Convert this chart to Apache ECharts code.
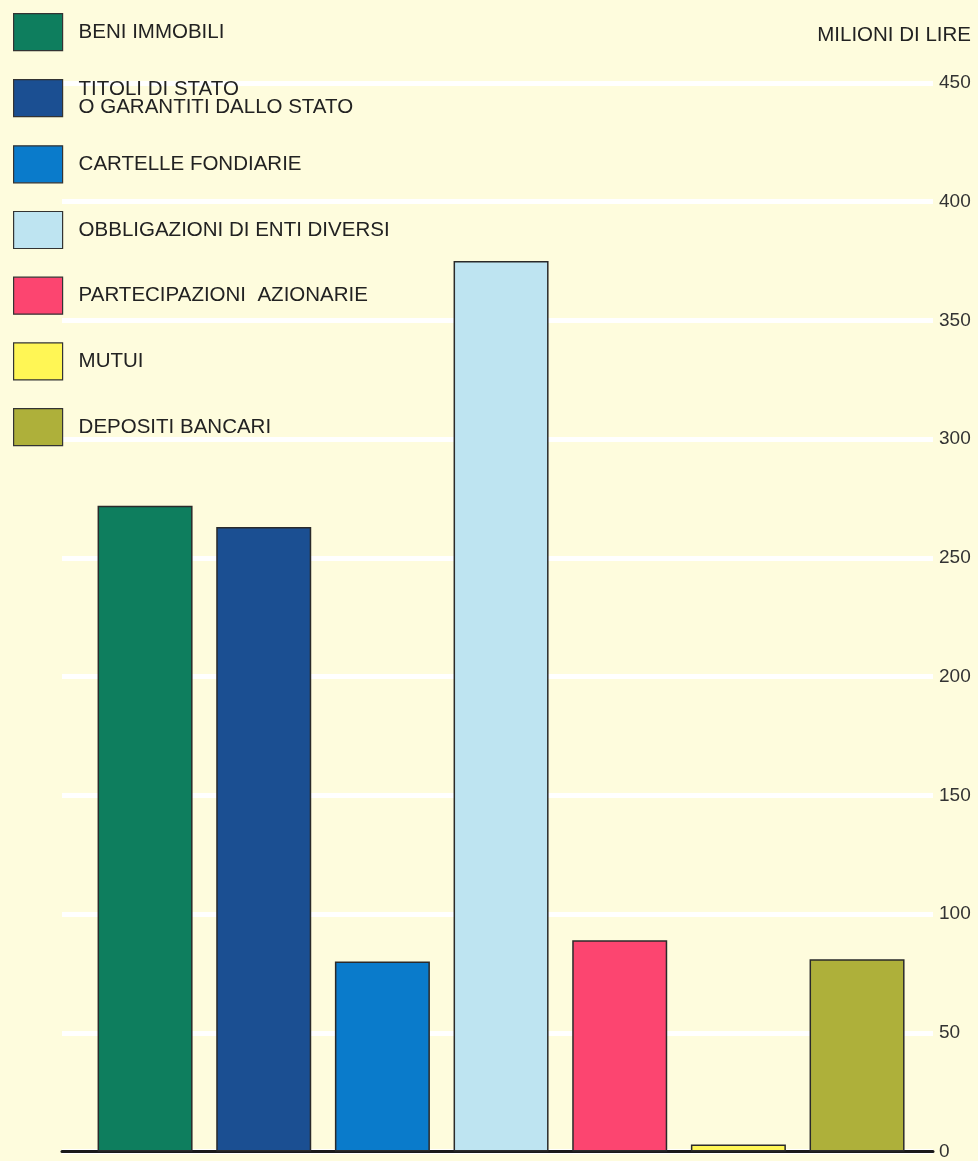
<!DOCTYPE html>
<html>
<head>
<meta charset="utf-8">
<script src="https://cdn.jsdelivr.net/npm/echarts@6/dist/echarts.min.js"></script>
<style>
html,body{margin:0;padding:0;background:#FEFCDD;}
#chart{width:978px;height:1161px;}
</style>
</head>
<body>
<div id="chart"></div>
<script>
const categories = [
  'BENI IMMOBILI',
  'TITOLI DI STATO\nO GARANTITI DALLO STATO',
  'CARTELLE FONDIARIE',
  'OBBLIGAZIONI DI ENTI DIVERSI',
  'PARTECIPAZIONI  AZIONARIE',
  'MUTUI',
  'DEPOSITI BANCARI'
];
const values = [272, 263, 80, 375, 89, 3, 81];
const colors = ['#0E7E5E', '#1B4F92', '#0A7BCB', '#BEE4F1', '#FC4570', '#FFF655', '#AEB03A'];
const yMin = 0, yMax = 450, yStep = 50;
const unitLabel = 'MILIONI DI LIRE';

const font = 'Liberation Sans';
const chart = echarts.init(document.getElementById('chart'));
chart.setOption({
  backgroundColor: '#FEFCDD',
  animation: false,
  title: {
    text: unitLabel,
    right: 2, top: 20,
    textStyle: {fontFamily: font, fontSize: 20.5, fontWeight: 'normal', color: '#222'}
  },
  legend: {
    orient: 'vertical',
    left: 13, top: 13,
    padding: 0,
    itemWidth: 49, itemHeight: 37, itemGap: 27.5,
    icon: 'rect',
    selectedMode: false,
    textStyle: {fontFamily: font, fontSize: 20.5, color: '#222', lineHeight: 18, padding: [0, 0, 0, 11]},
    data: categories.map(n => ({name: n, itemStyle: {borderColor: '#333', borderWidth: 1.2}}))
  },
  grid: {left: 62, right: 45, top: 83, bottom: 7},
  xAxis: {
    type: 'value',
    min: -0.7, max: 6.64,
    axisLine: {show: true, lineStyle: {color: '#1a1a1a', width: 3}},
    axisTick: {show: false},
    axisLabel: {show: false},
    splitLine: {show: false}
  },
  yAxis: {
    type: 'value',
    position: 'right',
    min: yMin, max: yMax, interval: yStep,
    axisLine: {show: false},
    axisTick: {show: false},
    axisLabel: {fontFamily: font, fontSize: 19, color: '#333', margin: 6},
    splitLine: {show: true, lineStyle: {color: '#FFFFFF', width: 5}}
  },
  series: categories.map((name, i) => ({
    type: 'bar',
    name: name,
    data: [[i, values[i]]],
    barWidth: 95,
    barGap: '-100%',
    itemStyle: {color: colors[i], borderColor: '#2a2a2a', borderWidth: 1.5}
  }))
});
</script>
</body>
</html>
